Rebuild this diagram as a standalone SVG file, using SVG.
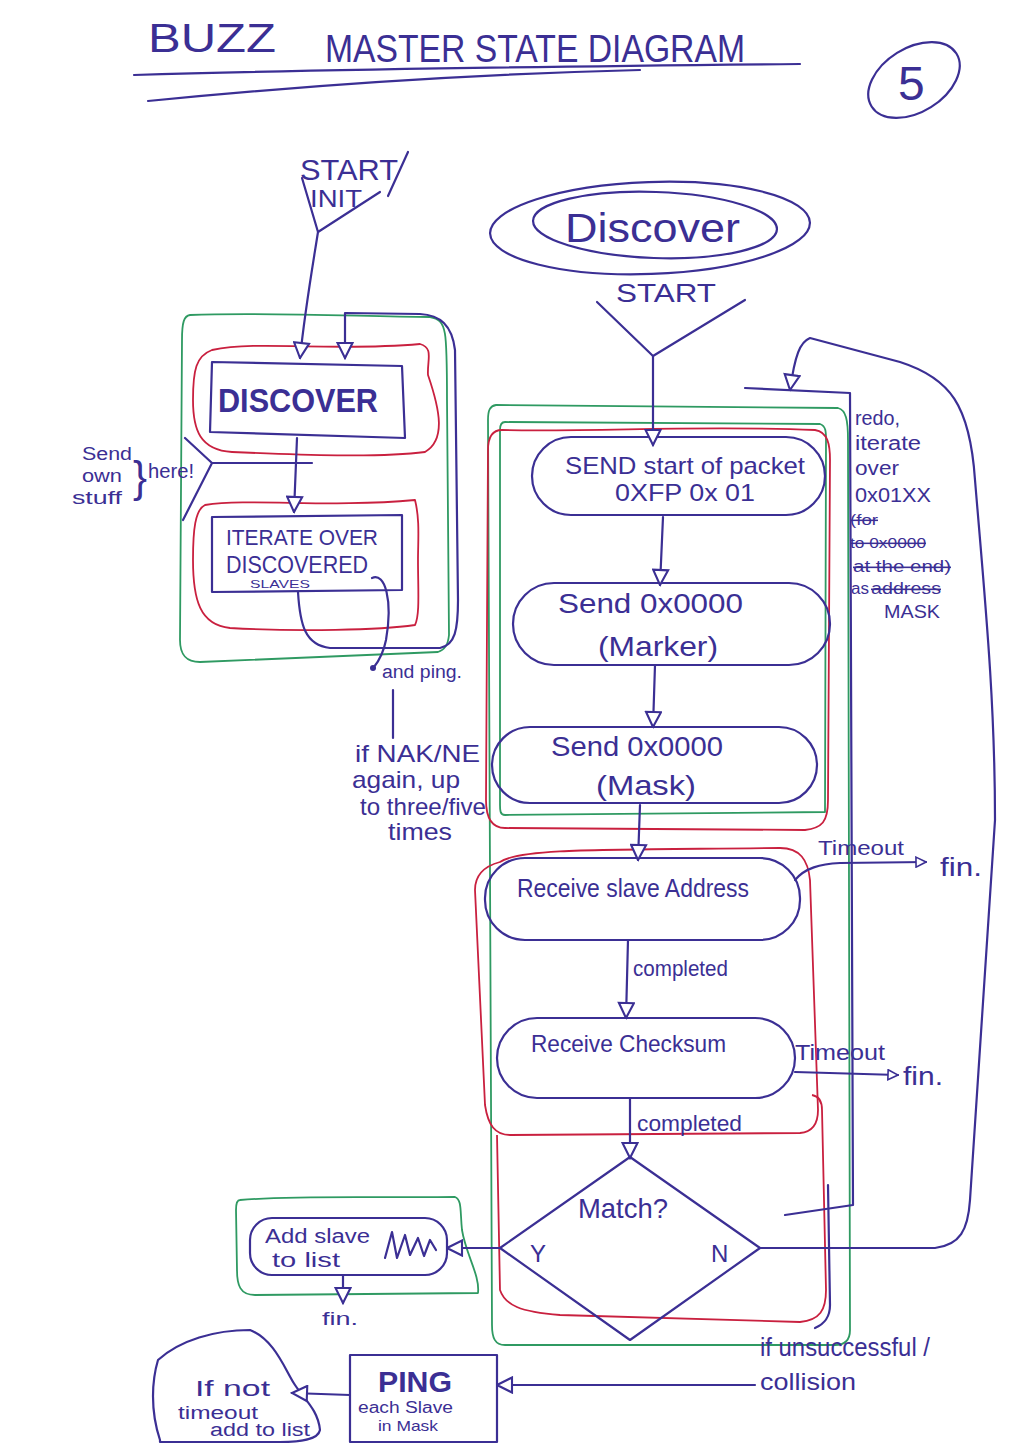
<svg xmlns="http://www.w3.org/2000/svg" width="1024" height="1448" viewBox="0 0 1024 1448">
<defs>
<style>
.ink{stroke:#3b2f94;fill:none;stroke-width:2.2;stroke-linecap:round;stroke-linejoin:round}
.red{stroke:#c9203f;fill:none;stroke-width:1.8;stroke-linejoin:round}
.grn{stroke:#2f9a62;fill:none;stroke-width:1.8;stroke-linejoin:round}
.t{font-family:"Liberation Sans",Arial,sans-serif;fill:#3b2f94}
.b{font-weight:bold}
.s{text-decoration:line-through}
</style>
<marker id="arr" viewBox="0 0 12 12" refX="11" refY="6" markerWidth="18" markerHeight="18" markerUnits="userSpaceOnUse" orient="auto">
<path d="M1,1 L11,6 L1,11 Z" fill="#fff" stroke="#3b2f94" stroke-width="1.4"/>
</marker>
<marker id="arrs" viewBox="0 0 12 12" refX="11" refY="6" markerWidth="12" markerHeight="12" markerUnits="userSpaceOnUse" orient="auto">
<path d="M1,1 L11,6 L1,11 Z" fill="#fff" stroke="#3b2f94" stroke-width="1.6"/>
</marker>
</defs>
<rect width="1024" height="1448" fill="#fff"/>

<g id="title">
<text class="t" x="148" y="52" font-size="40" textLength="128" lengthAdjust="spacingAndGlyphs">BUZZ</text>
<text class="t" x="325" y="62" font-size="38" textLength="420" lengthAdjust="spacingAndGlyphs">MASTER STATE DIAGRAM</text>
<path class="ink" d="M134,75 C300,70 600,66 800,64"/>
<path class="ink" d="M148,101 C300,86 480,74 640,70"/>
</g>

<g id="page-number">
<ellipse class="ink" cx="914" cy="80" rx="50" ry="32" transform="rotate(-32 914 80)"/>
<text class="t" x="898" y="100" font-size="48">5</text>
</g>

<g id="start-init">
<text class="t" x="300" y="180" font-size="30" textLength="98" lengthAdjust="spacingAndGlyphs">START</text>
<text class="t" x="310" y="207" font-size="24" textLength="52" lengthAdjust="spacingAndGlyphs">INIT</text>
<path class="ink" d="M408,152 L388,196"/>
<path class="ink" d="M302,178 L318,232 L380,192"/>
</g>

<g id="left-frame">
<path class="grn" d="M190,315 C260,312 350,316 430,317 C447,320 447,330 447,400 L449,635 C448,645 445,650 438,652 L200,662 C186,662 180,655 180,640 L182,340 C182,322 184,316 190,315 Z"/>
</g>

<g id="discover-state">
<path class="red" d="M212,350 C260,340 330,352 420,344 C434,348 427,360 428,375 C440,410 446,440 425,452 C380,458 300,455 232,452 C200,450 193,430 193,400 C193,370 196,356 212,350 Z"/>
<path class="ink" d="M212,362 L402,366 L405,438 L210,432 Z"/>
<text class="t b" x="218" y="412" font-size="34" textLength="160" lengthAdjust="spacingAndGlyphs">DISCOVER</text>
</g>

<g id="iterate-state">
<path class="red" d="M205,505 C250,498 330,508 415,500 C420,520 418,540 418,560 C418,590 420,615 415,625 C380,630 300,632 230,628 C200,625 193,600 193,560 C193,530 195,510 205,505 Z"/>
<path class="ink" d="M212,517 L402,515 L402,590 L212,592 Z"/>
<text class="t" x="226" y="545" font-size="22" textLength="152" lengthAdjust="spacingAndGlyphs">ITERATE OVER</text>
<text class="t" x="226" y="573" font-size="24" textLength="142" lengthAdjust="spacingAndGlyphs">DISCOVERED</text>
<text class="t" x="250" y="588" font-size="11" textLength="60" lengthAdjust="spacingAndGlyphs">SLAVES</text>
</g>

<g id="send-own-note">
<text class="t" x="82" y="460" font-size="18" textLength="50" lengthAdjust="spacingAndGlyphs">Send</text>
<text class="t" x="82" y="482" font-size="18" textLength="40" lengthAdjust="spacingAndGlyphs">own</text>
<text class="t" x="72" y="504" font-size="18" textLength="50" lengthAdjust="spacingAndGlyphs">stuff</text>
<text class="t" x="133" y="492" font-size="44" textLength="14" lengthAdjust="spacingAndGlyphs">}</text>
<text class="t" x="148" y="478" font-size="20" textLength="46" lengthAdjust="spacingAndGlyphs">here!</text>
<path class="ink" d="M185,438 L212,463 L183,520"/>
</g>

<g id="ping-note">
<text class="t" x="382" y="678" font-size="18" textLength="80" lengthAdjust="spacingAndGlyphs">and ping.</text>
<circle cx="373" cy="668" r="3" fill="#3b2f94"/>
<text class="t" x="355" y="762" font-size="24" textLength="125" lengthAdjust="spacingAndGlyphs">if NAK/NE</text>
<text class="t" x="352" y="788" font-size="24" textLength="108" lengthAdjust="spacingAndGlyphs">again, up</text>
<text class="t" x="360" y="815" font-size="24" textLength="126" lengthAdjust="spacingAndGlyphs">to three/five</text>
<text class="t" x="388" y="840" font-size="24" textLength="64" lengthAdjust="spacingAndGlyphs">times</text>
</g>

<g id="discover-title">
<ellipse class="ink" cx="650" cy="228" rx="160" ry="46" transform="rotate(-2 650 228)"/>
<ellipse class="ink" cx="655" cy="225" rx="122" ry="33" transform="rotate(2 655 225)"/>
<text class="t" x="565" y="242" font-size="40" textLength="175" lengthAdjust="spacingAndGlyphs">Discover</text>
<text class="t" x="616" y="302" font-size="26" textLength="100" lengthAdjust="spacingAndGlyphs">START</text>
<path class="ink" d="M597,302 L653,356 L745,300"/>
</g>

<g id="right-frames">
<path class="grn" d="M496,405 L838,408 C846,410 848,420 848,440 L850,1330 C850,1340 845,1345 835,1345 L505,1345 C495,1345 492,1338 492,1325 L488,420 C488,410 490,406 496,405 Z"/>
<path class="grn" d="M505,422 L820,424 C826,426 826,432 826,440 L825,812 L505,815 C500,815 500,810 500,805 L500,430 C500,425 502,422 505,422 Z"/>
<path class="red" d="M502,430 C600,432 700,425 815,430 C828,432 830,445 830,460 L828,800 C828,822 822,828 805,830 L505,828 C490,828 486,815 486,800 L488,450 C488,438 492,430 502,430 Z"/>
<path class="red" d="M500,862 C520,848 600,850 780,848 C800,848 808,860 810,880 L818,1110 C818,1125 812,1132 800,1133 L510,1135 C495,1135 488,1125 485,1105 L475,890 C475,875 485,866 500,862 Z"/>
<path class="red" d="M497,1135 L500,1290 C505,1305 520,1312 560,1315 L800,1322 C820,1320 826,1310 826,1290 L822,1110 C822,1100 818,1096 812,1095"/>
</g>

<g id="redo-note">
<text class="t" x="855" y="425" font-size="20" textLength="45" lengthAdjust="spacingAndGlyphs">redo,</text>
<text class="t" x="855" y="450" font-size="20" textLength="66" lengthAdjust="spacingAndGlyphs">iterate</text>
<text class="t" x="855" y="475" font-size="20" textLength="44" lengthAdjust="spacingAndGlyphs">over</text>
<text class="t" x="855" y="502" font-size="20" textLength="76" lengthAdjust="spacingAndGlyphs">0x01XX</text>
<text class="t s" x="850" y="525" font-size="15" textLength="28" lengthAdjust="spacingAndGlyphs">(for</text>
<text class="t s" x="850" y="548" font-size="15" textLength="76" lengthAdjust="spacingAndGlyphs">to 0x0000</text>
<text class="t s" x="853" y="572" font-size="16" textLength="98" lengthAdjust="spacingAndGlyphs">at the end)</text>
<text class="t" x="851" y="594" font-size="16" textLength="18" lengthAdjust="spacingAndGlyphs">as</text>
<text class="t s" x="871" y="594" font-size="16" textLength="70" lengthAdjust="spacingAndGlyphs">address</text>
<text class="t" x="884" y="618" font-size="18" textLength="56" lengthAdjust="spacingAndGlyphs">MASK</text>
</g>

<g id="send-start">
<rect class="ink" x="532" y="437" width="293" height="78" rx="39"/>
<text class="t" x="565" y="474" font-size="24" textLength="240" lengthAdjust="spacingAndGlyphs">SEND start of packet</text>
<text class="t" x="615" y="501" font-size="24" textLength="140" lengthAdjust="spacingAndGlyphs">0XFP 0x 01</text>
</g>

<g id="send-marker">
<rect class="ink" x="513" y="583" width="317" height="82" rx="41"/>
<text class="t" x="558" y="613" font-size="28" textLength="185" lengthAdjust="spacingAndGlyphs">Send 0x0000</text>
<text class="t" x="598" y="656" font-size="28" textLength="120" lengthAdjust="spacingAndGlyphs">(Marker)</text>
</g>

<g id="send-mask">
<rect class="ink" x="492" y="727" width="325" height="76" rx="38"/>
<text class="t" x="551" y="756" font-size="28" textLength="172" lengthAdjust="spacingAndGlyphs">Send 0x0000</text>
<text class="t" x="596" y="795" font-size="28" textLength="100" lengthAdjust="spacingAndGlyphs">(Mask)</text>
</g>

<g id="receive-address">
<rect class="ink" x="485" y="858" width="315" height="82" rx="40"/>
<text class="t" x="517" y="897" font-size="26" textLength="232" lengthAdjust="spacingAndGlyphs">Receive slave Address</text>
</g>

<g id="receive-checksum">
<rect class="ink" x="497" y="1018" width="298" height="80" rx="40"/>
<text class="t" x="531" y="1052" font-size="24" textLength="195" lengthAdjust="spacingAndGlyphs">Receive Checksum</text>
</g>

<g id="match">
<path class="ink" d="M630,1157 L760,1248 L630,1340 L500,1248 Z"/>
<text class="t" x="578" y="1218" font-size="28" textLength="90" lengthAdjust="spacingAndGlyphs">Match?</text>
<text class="t" x="530" y="1262" font-size="24">Y</text>
<text class="t" x="711" y="1262" font-size="24">N</text>
</g>

<g id="add-slave">
<path class="grn" d="M240,1200 C300,1195 380,1198 455,1197 C462,1200 460,1210 462,1230 C466,1255 480,1275 478,1293 L255,1295 C240,1295 237,1285 237,1270 L236,1210 C236,1203 238,1200 240,1200 Z"/>
<rect class="ink" x="250" y="1218" width="197" height="57" rx="22"/>
<text class="t" x="265" y="1243" font-size="20" textLength="105" lengthAdjust="spacingAndGlyphs">Add slave</text>
<text class="t" x="272" y="1267" font-size="20" textLength="68" lengthAdjust="spacingAndGlyphs">to list</text>
<path class="ink" d="M385,1258 L392,1232 L397,1258 L405,1235 L410,1255 L418,1238 L424,1256 L430,1240 L436,1250" stroke-width="2"/>
<text class="t" x="322" y="1325" font-size="18" textLength="36" lengthAdjust="spacingAndGlyphs">fin.</text>
</g>

<g id="ping">
<rect class="ink" x="350" y="1355" width="147" height="87"/>
<text class="t b" x="378" y="1392" font-size="30" textLength="74" lengthAdjust="spacingAndGlyphs">PING</text>
<text class="t" x="358" y="1413" font-size="16" textLength="95" lengthAdjust="spacingAndGlyphs">each Slave</text>
<text class="t" x="378" y="1431" font-size="15" textLength="60" lengthAdjust="spacingAndGlyphs">in Mask</text>
</g>

<g id="if-not-timeout">
<path class="ink" d="M160,1440 C150,1410 152,1380 158,1360 C180,1340 215,1330 250,1330 C275,1340 285,1370 295,1385 C305,1400 318,1410 320,1430 C318,1440 300,1442 280,1442 L160,1442 Z"/>
<text class="t" x="195" y="1396" font-size="22" textLength="75" lengthAdjust="spacingAndGlyphs">If not</text>
<text class="t" x="178" y="1419" font-size="18" textLength="80" lengthAdjust="spacingAndGlyphs">timeout</text>
<text class="t" x="210" y="1436" font-size="18" textLength="100" lengthAdjust="spacingAndGlyphs">add to list</text>
</g>

<g id="labels">
<text class="t" x="818" y="855" font-size="20" textLength="86" lengthAdjust="spacingAndGlyphs">Timeout</text>
<text class="t" x="940" y="876" font-size="26" textLength="42" lengthAdjust="spacingAndGlyphs">fin.</text>
<text class="t" x="633" y="976" font-size="22" textLength="95" lengthAdjust="spacingAndGlyphs">completed</text>
<text class="t" x="795" y="1060" font-size="22" textLength="90" lengthAdjust="spacingAndGlyphs">Timeout</text>
<text class="t" x="903" y="1085" font-size="26" textLength="40" lengthAdjust="spacingAndGlyphs">fin.</text>
<text class="t" x="637" y="1131" font-size="22" textLength="105" lengthAdjust="spacingAndGlyphs">completed</text>
<text class="t" x="760" y="1356" font-size="26" textLength="170" lengthAdjust="spacingAndGlyphs">if unsuccessful /</text>
<text class="t" x="760" y="1390" font-size="24" textLength="96" lengthAdjust="spacingAndGlyphs">collision</text>
</g>

<g id="connectors">
<path class="ink" d="M318,232 C312,270 305,310 300,358" marker-end="url(#arr)"/>
<path class="ink" d="M297,438 L294,512" marker-end="url(#arr)"/>
<path class="ink" d="M212,463 L312,463"/>
<path class="ink" d="M298,592 C300,625 305,645 330,648 L440,648 C455,645 458,630 458,600 L455,350 C452,325 440,315 420,314 L345,313 L345,358" marker-end="url(#arr)"/>
<path class="ink" d="M372,578 C385,572 393,600 386,640 C383,655 378,662 374,667"/>
<path class="ink" d="M393,690 L393,738"/>
<path class="ink" d="M653,356 L653,445" marker-end="url(#arr)"/>
<path class="ink" d="M663,517 L660,585" marker-end="url(#arr)"/>
<path class="ink" d="M655,665 L653,727" marker-end="url(#arr)"/>
<path class="ink" d="M640,805 L638,860" marker-end="url(#arr)"/>
<path class="ink" d="M628,940 L626,1018" marker-end="url(#arr)"/>
<path class="ink" d="M630,1098 L630,1158" marker-end="url(#arr)"/>
<path class="ink" d="M795,880 C805,868 820,864 840,863 L926,862" marker-end="url(#arrs)"/>
<path class="ink" d="M795,1072 L898,1075" marker-end="url(#arrs)"/>
<path class="ink" d="M760,1248 L935,1248 C960,1245 968,1230 970,1200 L995,820 C995,700 985,600 975,480 C970,405 950,378 900,362 L810,338 C800,342 795,355 790,390" marker-end="url(#arr)"/>
<path class="ink" d="M745,388 L850,393 L853,1205 L785,1215"/>
<path class="ink" d="M828,1185 L830,1305 C830,1318 824,1324 815,1328"/>
<path class="ink" d="M500,1248 L447,1248" marker-end="url(#arr)"/>
<path class="ink" d="M343,1275 L343,1303" marker-end="url(#arr)"/>
<path class="ink" d="M755,1385 L497,1385" marker-end="url(#arr)"/>
<path class="ink" d="M350,1395 L292,1393" marker-end="url(#arr)"/>
</g>
</svg>
